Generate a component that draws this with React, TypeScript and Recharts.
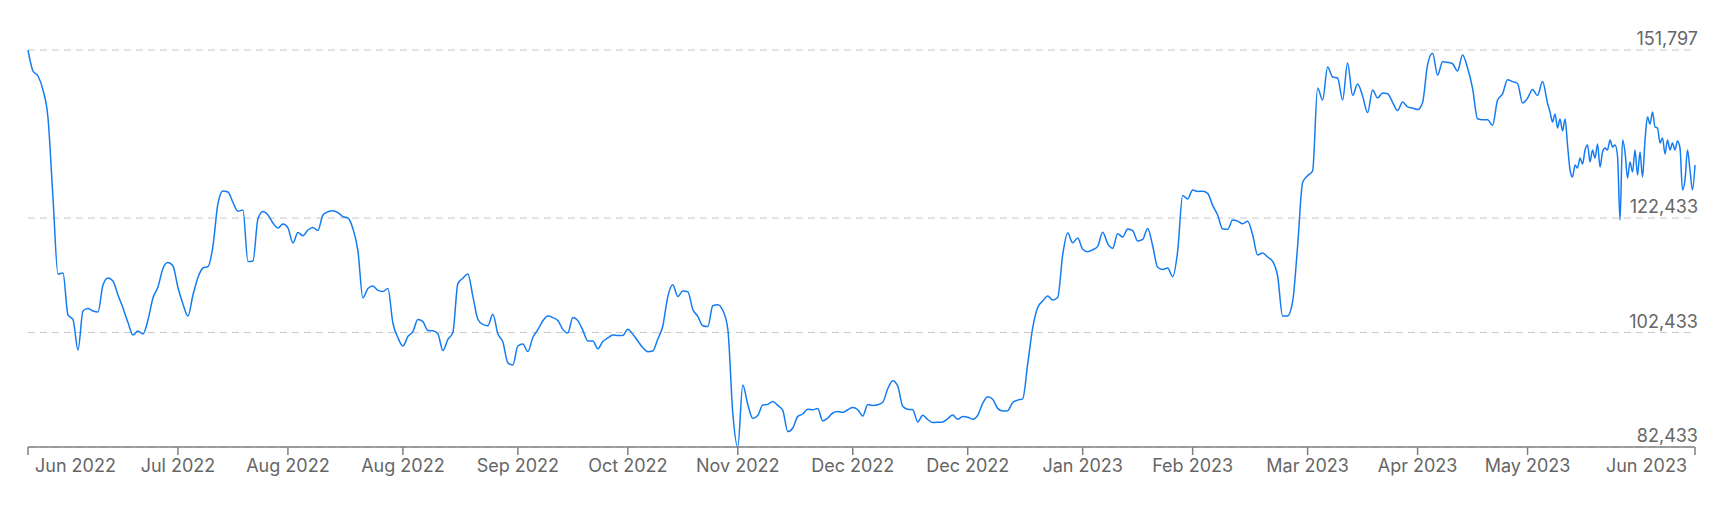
import React from 'react';
import { LineChart, Line, XAxis, YAxis, CartesianGrid } from 'recharts';

// daily-ish closes (one sample per step), then the dense intraday tail (half steps)
const mainPrices = [
  151797, 148130, 147250, 144810, 139920, 125940, 112660, 112830, 105500, 104710,
  99380, 106200, 106630, 106200, 106020, 110740, 111960, 111440, 108990, 106720,
  104190, 102000, 102700, 102180, 104620, 108470, 110390, 113620, 114650, 114060,
  110300, 107420, 105320, 108990, 112050, 113710, 113940, 117550, 124940, 127160,
  126990, 125150, 123630, 123840, 114830, 114930, 122270, 123580, 122970, 121570,
  120680, 121400, 120730, 118080, 119930, 119330, 120350, 120780, 120260, 122970,
  123530, 123720, 123400, 122670, 122440, 120580, 116730, 108470, 110130, 110560,
  109790, 109620, 110110, 104100, 101530, 100080, 101740, 102580, 104690, 104330,
  102770, 102740, 102230, 99290, 101220, 102440, 110980, 111930, 112660, 108760,
  104760, 103850, 103630, 105640, 102230, 100780, 97130, 96760, 100080, 100430,
  99100, 101570, 102930, 104480, 105320, 105040, 104540, 102980, 102350, 105080,
  104520, 102820, 100940, 100950, 99610, 100870, 101480, 102000, 101930, 101930,
  103000, 102140, 100950, 99780, 99080, 99210, 101300, 103570, 108710, 110770,
  108730, 109670, 109550, 106470, 105270, 103610, 103470, 107120, 107300, 106320,
  103050, 88370, 82433, 93270, 89860, 87430, 87940, 89770, 89880, 90400,
  89700, 88830, 85120, 85750, 87780, 88200, 89020, 88930, 89160, 86980,
  87500, 88370, 88620, 88500, 88950, 89330, 88950, 87850, 89860, 89700,
  89810, 90240, 92600, 94020, 93090, 89560, 89020, 88930, 86820, 87970,
  87240, 86710, 86750, 86820, 87380, 88020, 87260, 87780, 87640, 87290,
  87970, 90050, 91220, 90790, 89180, 88710, 88780, 90210, 90630, 90850,
  96940, 103230, 106790, 107940, 108800, 108120, 108540, 115980, 119820, 118110,
  118950, 116990, 116560, 116890, 117480, 119960, 117970, 117150, 119700, 119120,
  120520, 120230, 118410, 118690, 120630, 117590, 113830, 113460, 113710, 112190,
  116640, 126360, 125760, 127340, 127090, 127110, 126740, 124660, 122970, 120520,
  120470, 122090, 121890, 121430, 121890, 119510, 115980, 116330, 115630, 114860,
  112310, 105300, 105320, 107820, 117550, 128650, 129840, 130690, 145160, 143060,
  148830, 147080, 146900, 143060, 149530, 143870, 145860, 143760, 140860, 144810,
  143410, 144280, 144140, 142660, 141210, 142710, 141860, 141660, 141380, 142640,
  149230, 151240, 147390, 149750, 149630, 149400, 148130, 150920, 148650, 145110,
  139790, 139600, 139600, 138620, 143060, 144130, 146610, 146280, 145940, 142540,
  143360, 144880, 143850, 146290, 142500,
];

const tailPrices = [
  140960, 139220, 140620, 138170, 139740, 137650, 139740, 135200, 130830, 129610,
  131700, 131180, 132930, 131880, 134330, 135200, 132230, 134330, 132930, 135370,
  131350, 133980, 134670, 134330, 136070, 134850, 135200, 133280, 122090, 136070,
  133980, 129430, 132230, 130480, 134330, 129960, 133980, 129610, 136070, 140090,
  138870, 140960, 138340, 138170, 135550, 136420, 133630, 136070, 134330, 135550,
  134330, 135900, 134670, 127340, 129080, 134330, 130830, 127340, 131700,
];

const tickSteps = [0, 30, 52, 75, 98, 120, 142, 165, 188, 211, 233, 256, 278, 300, 333.5];
const tickLabels = [
  'Jun 2022', 'Jul 2022', 'Aug 2022', 'Aug 2022', 'Sep 2022', 'Oct 2022', 'Nov 2022',
  'Dec 2022', 'Dec 2022', 'Jan 2023', 'Feb 2023', 'Mar 2023', 'Apr 2023', 'May 2023', 'Jun 2023',
];
const yTicks = [82433, 102433, 122433, 151797];

const data = [
  ...mainPrices.map((v, i) => ({ t: i, v })),
  ...tailPrices.map((v, j) => ({ t: mainPrices.length - 1 + (j + 1) * 0.5, v })),
];

const FONT = 'Inter, "Noto Sans", sans-serif';
const LABEL_RIGHT = 1698;

function XTick(props: any) {
  const { x, y, payload, index } = props;
  const last = tickSteps.length - 1;
  let anchor: 'start' | 'middle' | 'end' = 'middle';
  let dx = 0;
  if (index === 0) { anchor = 'start'; dx = 7; }
  if (index === last) { anchor = 'end'; dx = -8; }
  return (
    <text x={x + dx} y={y} dy="0.71em" textAnchor={anchor} fill="#666" fontSize={18} fontFamily={FONT}>
      {tickLabels[tickSteps.indexOf(payload.value)]}
    </text>
  );
}

function YTick(props: any) {
  const { y, payload } = props;
  return (
    <text x={LABEL_RIGHT} y={y - 5} textAnchor="end" fill="#666" fontSize={18} fontFamily={FONT}>
      {Number(payload.value).toLocaleString('en-US')}
    </text>
  );
}

export default function App() {
  return (
    <div style={{ position: 'absolute', left: 0, top: 0, background: '#fff' }}>
      <LineChart width={1729} height={517} data={data} margin={{ top: 50, right: 0, bottom: 40, left: 28 }}>
        <CartesianGrid vertical={false} stroke="#c8c8c8" strokeDasharray="7 5" />
        <XAxis
          dataKey="t"
          type="number"
          domain={[0, 333.5]}
          ticks={tickSteps}
          interval={0}
          tick={<XTick />}
          tickSize={8}
          tickMargin={4}
          stroke="#808080"
          strokeWidth={1.5}
          height={30}
        />
        <YAxis
          orientation="right"
          domain={[82433, 151797]}
          ticks={yTicks}
          width={34}
          axisLine={false}
          tickLine={false}
          tick={<YTick />}
          allowDataOverflow
        />
        <Line type="monotone" dataKey="v" stroke="#147cf0" strokeWidth={1.5} dot={false} isAnimationActive={false} />
      </LineChart>
    </div>
  );
}
